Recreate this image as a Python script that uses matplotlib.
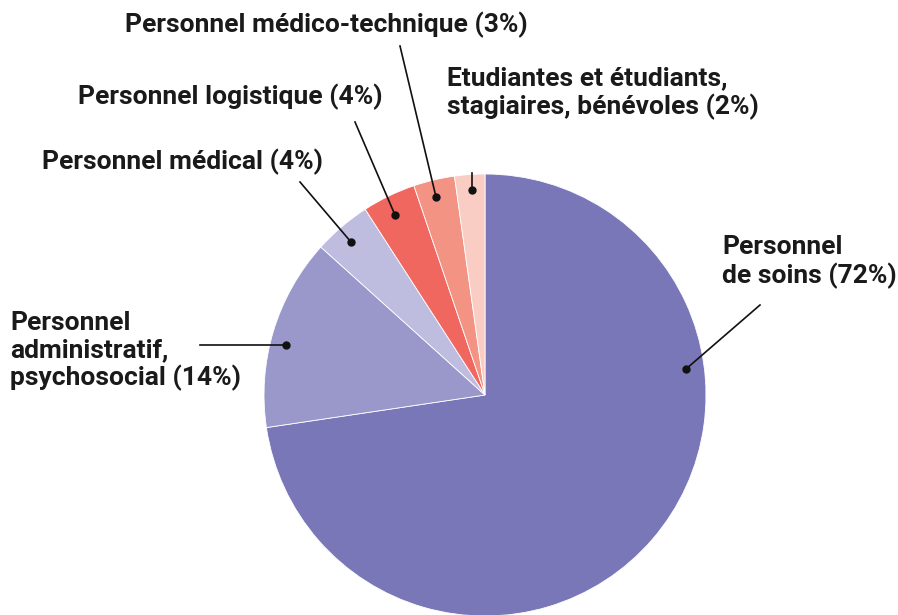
import matplotlib
matplotlib.use("Agg")
import matplotlib.pyplot as plt

categories = ["Personnel\nde soins (72%)",
              "Personnel\nadministratif,\npsychosocial (14%)",
              "Personnel médical (4%)",
              "Personnel logistique (4%)",
              "Personnel médico-technique (3%)",
              "Etudiantes et étudiants,\nstagiaires, bénévoles (2%)"]
values = [72.5, 14.0, 4.2, 3.9, 3.0, 2.2]
colors = ["#7977B7", "#9A98CA", "#BEBCDF", "#F0675F", "#F39384", "#F9CDC3"]

W, H = 898, 615
fig = plt.figure(figsize=(W / 100, H / 100), dpi=100)
ax = fig.add_axes([0, 0, 1, 1])

def P(x, y):
    return (x, H - y)

ax.pie(values, colors=colors, startangle=90, counterclock=False,
       center=P(485, 395), radius=221, frame=True,
       wedgeprops=dict(edgecolor="white", linewidth=0.6))
ax.set_xlim(0, W)
ax.set_ylim(0, H)
ax.axis("off")

# label layout: (text x, text y), ha, line start, dot
layout = [
    ((722, 262), "left", (760, 305), (686, 369)),
    ((10, 351), "left", (200, 345), (286, 345)),
    ((42, 162), "left", (300, 182), (351, 242)),
    ((78, 97), "left", (355, 122), (395, 215)),
    ((125, 25), "left", (400, 46), (436, 197)),
    ((447, 93), "left", (472, 173), (472, 190)),
]

font = dict(family=["Roboto", "DejaVu Sans"], weight="bold", size=19, color="#1a1a1a")
for lab, (tp, ha, ls, dot) in zip(categories, layout):
    ax.text(*P(*tp), lab, ha=ha, va="center", linespacing=1.14, **font)
    ax.plot([P(*ls)[0], P(*dot)[0]], [P(*ls)[1], P(*dot)[1]], color="#111111", lw=1.2)
    ax.plot(*P(*dot), "o", color="#111111", markersize=5)

fig.savefig("out.png", dpi=100)
